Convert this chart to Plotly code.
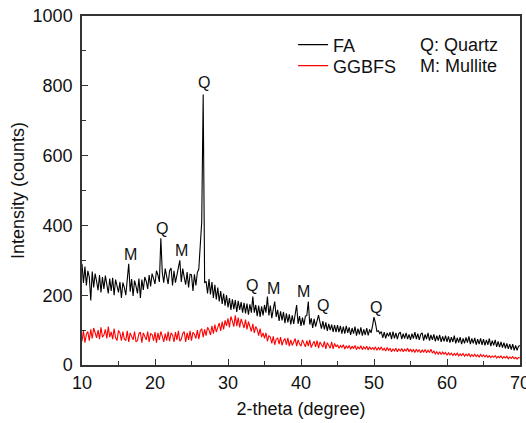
import numpy as np
import plotly.graph_objects as go

# 2-theta scan: 10 to 70 degrees, step 0.2
start_2theta = 10.0
step_2theta = 0.2

# Fly ash (FA) intensity, counts
fa_counts = [
    290, 235, 282, 228, 270, 252, 185, 268, 222, 262, 240, 214, 258, 208, 252, 218, 256, 230, 205, 248, 212, 250, 200, 245, 226,
    208, 238, 192, 236, 222, 200, 244, 290, 210, 246, 198, 242, 226, 205, 248, 192, 245, 215, 252, 240, 218, 258, 225, 262, 248,
    232, 270, 258, 238, 363, 265, 236, 276, 250, 232, 270, 278, 228, 270, 236, 260, 274, 300, 238, 276, 252, 230, 266, 222, 260,
    258, 212, 260, 228, 265, 275, 335, 410, 775, 235, 240, 205, 246, 202, 238, 192, 230, 188, 222, 182, 212, 175, 205, 170, 200,
    165, 192, 158, 188, 160, 186, 152, 184, 158, 180, 150, 178, 148, 176, 144, 174, 150, 196, 150, 172, 140, 170, 138, 168, 142,
    172, 150, 196, 142, 170, 134, 160, 182, 138, 158, 126, 154, 128, 152, 120, 148, 122, 145, 116, 142, 118, 140, 172, 118, 140,
    112, 136, 114, 140, 142, 182, 116, 134, 106, 132, 110, 128, 143, 122, 104, 126, 102, 122, 98, 118, 100, 116, 95, 114, 94,
    114, 94, 112, 90, 110, 90, 112, 92, 108, 86, 106, 90, 110, 84, 104, 88, 108, 84, 102, 86, 106, 85, 102, 92, 112,
    137, 120, 96, 98, 90, 96, 78, 94, 76, 92, 82, 94, 74, 96, 76, 92, 74, 90, 94, 74, 90, 76, 92, 74, 88,
    72, 90, 76, 94, 74, 90, 72, 88, 92, 70, 88, 74, 92, 70, 86, 72, 88, 68, 84, 70, 86, 66, 82, 68, 84,
    66, 82, 64, 80, 66, 84, 62, 78, 64, 80, 60, 76, 62, 79, 64, 82, 60, 76, 62, 78, 58, 74, 60, 76, 58,
    74, 56, 72, 58, 76, 54, 70, 56, 72, 52, 68, 51, 66, 50, 64, 48, 62, 46, 60, 44, 60, 42, 56, 42, 54,
    55,
]

# Ground granulated blast-furnace slag (GGBFS) intensity, counts
ggbfs_counts = [
    68, 98, 64, 88, 96, 70, 102, 76, 106, 92, 78, 100, 74, 108, 80, 86, 102, 76, 110, 80, 95, 74, 104, 78, 70,
    99, 92, 70, 96, 74, 71, 98, 66, 92, 84, 72, 96, 66, 70, 90, 94, 64, 92, 80, 72, 96, 66, 90, 88, 70,
    94, 64, 92, 72, 96, 82, 66, 90, 70, 96, 68, 92, 86, 66, 94, 72, 98, 68, 74, 90, 96, 66, 92, 72, 98,
    70, 94, 88, 76, 100, 74, 98, 104, 80, 102, 84, 108, 100, 86, 112, 90, 116, 94, 108, 120, 98, 124, 102, 128, 112,
    134, 108, 139, 126, 110, 142, 111, 136, 108, 132, 120, 106, 130, 102, 124, 112, 96, 118, 92, 110, 102, 84, 104, 80, 92,
    76, 92, 68, 84, 80, 62, 82, 58, 74, 78, 60, 80, 56, 70, 76, 58, 78, 54, 72, 56, 66, 76, 54, 72, 60,
    54, 72, 64, 52, 70, 54, 72, 50, 60, 68, 52, 70, 48, 66, 58, 51, 68, 46, 64, 56, 48, 66, 46, 62, 52,
    58, 48, 56, 50, 58, 46, 55, 48, 56, 45, 54, 47, 56, 44, 52, 46, 55, 44, 52, 46, 54, 43, 52, 45, 50,
    44, 52, 42, 50, 44, 52, 42, 48, 40, 50, 42, 48, 38, 46, 40, 48, 38, 46, 40, 47, 38, 45, 40, 48, 38,
    46, 38, 44, 36, 45, 38, 44, 35, 43, 37, 44, 35, 42, 36, 45, 34, 40, 32, 38, 31, 38, 30, 37, 31, 36,
    28, 35, 29, 34, 27, 33, 28, 34, 26, 32, 27, 33, 25, 31, 26, 32, 24, 30, 25, 31, 24, 29, 23, 30, 24,
    29, 23, 28, 22, 27, 21, 26, 22, 27, 20, 25, 21, 26, 19, 24, 20, 25, 18, 23, 19, 24, 18, 22, 17, 22,
    20,
]

two_theta = np.round(start_2theta + step_2theta * np.arange(len(fa_counts)), 2)

# Phase markers: label, 2-theta, label height (counts)
peak_labels = ["M", "Q", "M", "Q", "Q", "M", "M", "Q", "Q"]
peak_2theta = [16.6, 20.96, 23.6, 26.71, 33.35, 36.2, 40.3, 43.0, 50.3]
peak_height = [318, 392, 328, 810, 228, 219, 211, 171, 164]

x_ticks = [10, 20, 30, 40, 50, 60, 70]
y_ticks = [0, 200, 400, 600, 800, 1000]

FONT = "Liberation Sans, Arial, sans-serif"
TEXT = "#111111"
AXIS = "#333333"

fig = go.Figure()
fig.add_trace(go.Scatter(
    x=two_theta, y=fa_counts, mode="lines", name="FA", legend="legend",
    line=dict(color="#000000", width=1.1),
))
fig.add_trace(go.Scatter(
    x=two_theta[:len(ggbfs_counts)], y=ggbfs_counts, mode="lines", name="GGBFS", legend="legend2",
    line=dict(color="#ff0000", width=1.1),
))

for lab, px, py in zip(peak_labels, peak_2theta, peak_height):
    fig.add_annotation(x=px, y=py, text=lab, showarrow=False,
                       font=dict(family=FONT, size=16, color=TEXT),
                       xanchor="center", yanchor="middle")

fig.add_annotation(x=0.767, y=0.917, xref="paper", yref="paper", text="Q: Quartz",
                   showarrow=False, xanchor="left", yanchor="middle",
                   font=dict(family=FONT, size=18, color=TEXT))
fig.add_annotation(x=0.767, y=0.857, xref="paper", yref="paper", text="M: Mullite",
                   showarrow=False, xanchor="left", yanchor="middle",
                   font=dict(family=FONT, size=18, color=TEXT))

axis_common = dict(
    showline=True, linecolor=AXIS, linewidth=1.5, mirror=True,
    ticks="inside", ticklen=6, tickwidth=1.2, tickcolor=AXIS,
    showgrid=False, zeroline=False,
    tickfont=dict(family=FONT, size=18, color=TEXT),
    ticklabeloverflow="allow",
)

fig.update_xaxes(
    range=[10, 70], tickvals=x_ticks,
    minor=dict(ticks="inside", ticklen=4, tickwidth=1.2, tickcolor=AXIS, dtick=5, tick0=5),
    title=dict(text="2-theta (degree)", font=dict(family=FONT, size=18, color=TEXT), standoff=10),
    ticklabelstandoff=1,
    **axis_common,
)
fig.update_yaxes(
    range=[0, 1000], tickvals=y_ticks,
    minor=dict(ticks="inside", ticklen=4, tickwidth=1.2, tickcolor=AXIS, dtick=100, tick0=0),
    title=dict(text="Intensity (counts)", font=dict(family=FONT, size=18, color=TEXT), standoff=3),
    ticklabelstandoff=4,
    **axis_common,
)

legend_common = dict(xanchor="left", yanchor="middle", bgcolor="rgba(0,0,0,0)", borderwidth=0,
                     font=dict(family=FONT, size=18, color=TEXT))

fig.update_layout(
    width=526, height=423,
    margin=dict(l=82, r=6, t=16, b=58, autoexpand=False),
    paper_bgcolor="white", plot_bgcolor="white",
    showlegend=True,
    legend=dict(x=0.482, y=0.917, **legend_common),
    legend2=dict(x=0.482, y=0.857, **legend_common),
)

fig.write_html("out.html")
